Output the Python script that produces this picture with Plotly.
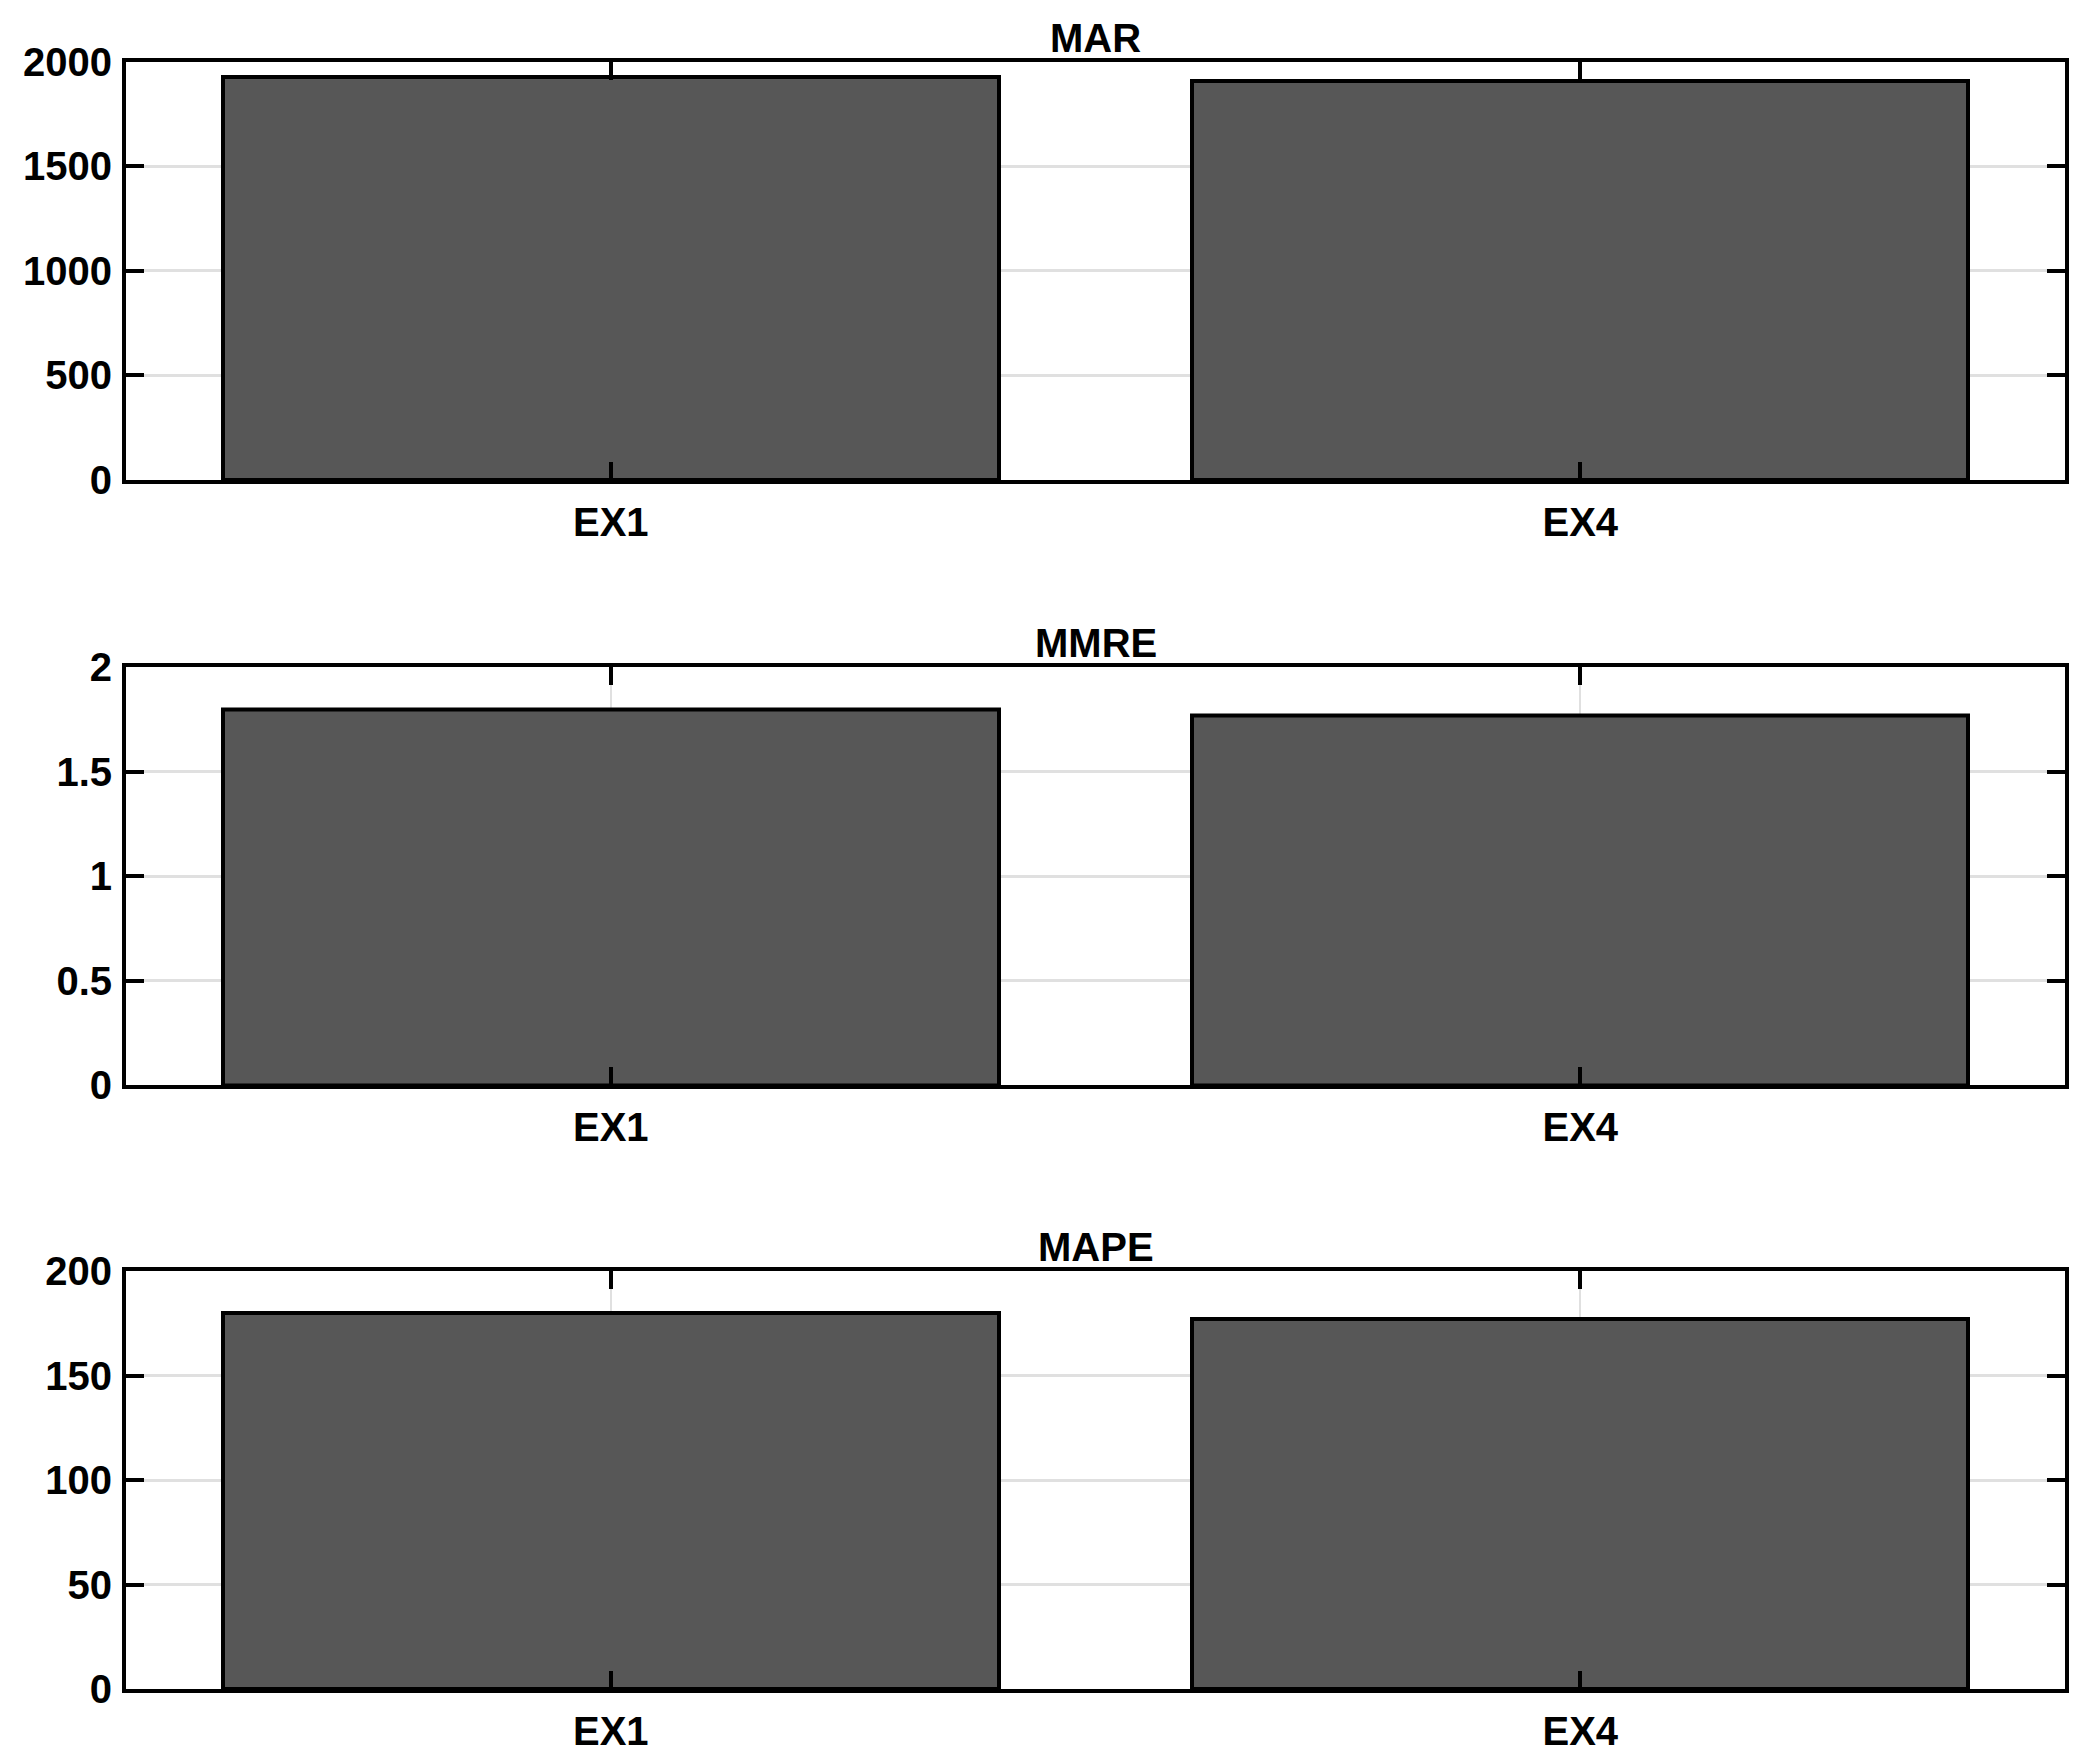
import plotly.graph_objects as go

# metric values per experiment
experiments = ['EX1', 'EX4']
mar = [1930, 1910]
mmre = [1.797, 1.769]
mape = [179.7, 176.9]

titles = ['MAR', 'MMRE', 'MAPE']
series = [mar, mmre, mape]
y_max = [2000, 2, 200]
y_dtick = [500, 0.5, 50]

# panel positions (paper coords, top to bottom)
domains = [[0.7431, 1.0], [0.3712, 0.6279], [0.0, 0.2569]]

fig = go.Figure()
font = dict(family='Liberation Sans, Arial, sans-serif', size=40, color='black', weight='bold')

for i, vals in enumerate(series):
    n = '' if i == 0 else str(i + 1)
    fig.add_trace(go.Bar(
        x=[1, 2], y=vals, width=0.8,
        marker=dict(color='#575757', line=dict(color='black', width=4)),
        xaxis='x' + n, yaxis='y' + n, showlegend=False
    ))
    axis_common = dict(
        showline=True, linecolor='black', linewidth=4, mirror='ticks',
        ticks='inside', ticklen=18, tickwidth=4, tickcolor='black',
        showgrid=True, gridcolor='#e0e0e0', gridwidth=3,
        zeroline=False, tickfont=font,
    )
    fig.update_layout({
        'xaxis' + n: dict(axis_common, domain=[0, 1], anchor='y' + n,
                          range=[0.5, 2.5], tickvals=[1, 2], ticktext=experiments,
                          gridwidth=1.5, ticklabelstandoff=4),
        'yaxis' + n: dict(axis_common, domain=domains[i], anchor='x' + n,
                          range=[0, y_max[i]], dtick=y_dtick[i], ticklabelstandoff=2),
    })
    fig.add_annotation(text=titles[i], x=0.5, y=domains[i][1], xref='paper', yref='paper',
                       xanchor='center', yanchor='bottom', yshift=0, showarrow=False, font=font)

fig.update_layout(
    width=2085, height=1764,
    margin=dict(l=118, r=28, t=54, b=83),
    plot_bgcolor='white', paper_bgcolor='white',
    bargap=0,
)

fig.write_html('out.html')
